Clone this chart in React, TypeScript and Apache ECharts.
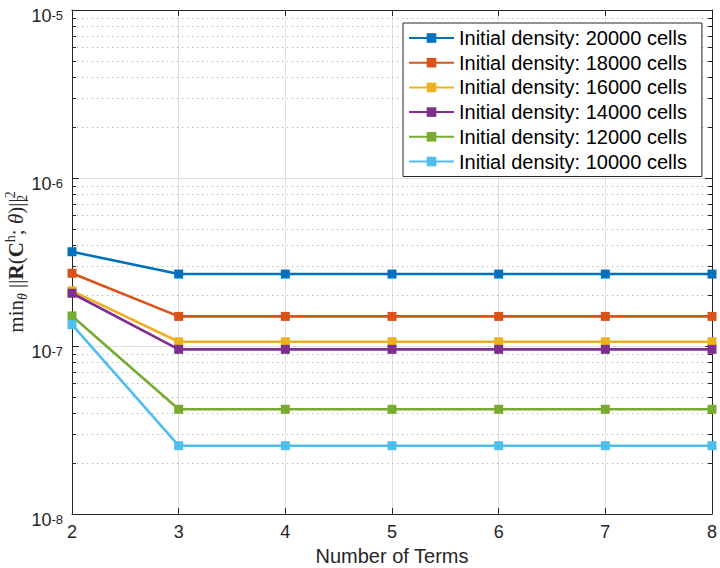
import React, { useEffect, useRef } from "react";
import * as echarts from "echarts";

const terms = [2, 3, 4, 5, 6, 7, 8];
const seriesNames = [
  "Initial density: 20000 cells",
  "Initial density: 18000 cells",
  "Initial density: 16000 cells",
  "Initial density: 14000 cells",
  "Initial density: 12000 cells",
  "Initial density: 10000 cells",
];
const d20000 = [3.64e-7, 2.68e-7, 2.68e-7, 2.68e-7, 2.68e-7, 2.68e-7, 2.68e-7];
const d18000 = [2.71e-7, 1.5e-7, 1.5e-7, 1.5e-7, 1.5e-7, 1.5e-7, 1.5e-7];
const d16000 = [2.13e-7, 1.06e-7, 1.06e-7, 1.06e-7, 1.06e-7, 1.06e-7, 1.06e-7];
const d14000 = [2.06e-7, 9.55e-8, 9.55e-8, 9.55e-8, 9.55e-8, 9.55e-8, 9.55e-8];
const d12000 = [1.51e-7, 4.2e-8, 4.2e-8, 4.2e-8, 4.2e-8, 4.2e-8, 4.2e-8];
const d10000 = [1.34e-7, 2.55e-8, 2.55e-8, 2.55e-8, 2.55e-8, 2.55e-8, 2.55e-8];
const allSeries = [d20000, d18000, d16000, d14000, d12000, d10000];
const colors = ["#0072BD", "#D95319", "#EDB120", "#7E2F8E", "#77AC30", "#4DBEEE"];
const minorYTicks = [
  2e-8, 3e-8, 4e-8, 5e-8, 6e-8, 7e-8, 8e-8, 9e-8,
  2e-7, 3e-7, 4e-7, 5e-7, 6e-7, 7e-7, 8e-7, 9e-7,
  2e-6, 3e-6, 4e-6, 5e-6, 6e-6, 7e-6, 8e-6, 9e-6,
];
const yAxisTitle = "{n|min}{sub|θ}{n| ||}{b|R}{n|(}{b|C}{sup|h}{n|; }{i|θ}{n|)||}{subw|2}{sup|2}";

const FONT = "'Liberation Sans', Arial, Helvetica, sans-serif";
const SERIF = "'Liberation Serif', 'DejaVu Serif', serif";
const TXT = "#262626";

export default function App() {
  const ref = useRef<HTMLDivElement>(null);
  useEffect(() => {
    if (!ref.current) return;
    const chart = echarts.init(ref.current, null, { renderer: "svg" });
    const lineSeries = allSeries.map((vals, i) => ({
      name: seriesNames[i],
      type: "line",
      data: terms.map((t, j) => [t, vals[j]]),
      symbol: "rect",
      symbolSize: 9,
      lineStyle: { width: 2.6, color: colors[i] },
      itemStyle: { color: colors[i] },
      z: 10 + i,
    }));
    chart.setOption({
      animation: false,
      backgroundColor: "#ffffff",
      textStyle: { fontFamily: FONT },
      grid: { left: 72, right: 8, top: 10, bottom: 54, containLabel: false, outerBoundsMode: "none" },
      graphic: [
        {
          type: "text",
          x: 16,
          y: 262,
          rotation: Math.PI / 2,
          style: {
            text: yAxisTitle,
            align: "center",
            verticalAlign: "middle",
            fill: TXT,
            font: `21px ${SERIF}`,
            rich: {
              n: { fontSize: 21, fontFamily: SERIF, fill: TXT, lineHeight: 26 },
              b: { fontSize: 21, fontWeight: "bold", fontFamily: SERIF, fill: TXT, lineHeight: 26 },
              i: { fontSize: 21, fontStyle: "italic", fontFamily: SERIF, fill: TXT, lineHeight: 26 },
              sub: { fontSize: 14, fontStyle: "italic", fontFamily: SERIF, fill: TXT, lineHeight: 14, padding: [12, 0, 0, 0] },
              subw: { fontSize: 14, fontFamily: SERIF, fill: TXT, lineHeight: 14, width: 0, padding: [12, 0, 0, 0] },
              sup: { fontSize: 14, fontFamily: SERIF, fill: TXT, lineHeight: 14, padding: [0, 0, 12, 0] },
            },
          },
        },
      ],
      legend: {
        orient: "vertical",
        left: 403,
        top: 23,
        padding: [5, 15, 5, 5],
        itemWidth: 45,
        itemHeight: 12,
        itemGap: 4.7,
        backgroundColor: "#ffffff",
        borderColor: "#262626",
        borderWidth: 1,
        textStyle: { fontSize: 20, lineHeight: 20, color: "#000", fontFamily: FONT },
        data: seriesNames,
        z: 50,
      },
      xAxis: [
        {
          type: "value",
          min: 2,
          max: 8,
          interval: 1,
          name: "Number of Terms",
          nameLocation: "middle",
          nameGap: 32,
          nameTextStyle: { fontSize: 20, color: TXT, fontFamily: FONT },
          axisLine: { lineStyle: { color: TXT, width: 1 } },
          axisTick: { inside: true, length: 6, lineStyle: { color: TXT } },
          axisLabel: { fontSize: 18, color: TXT, margin: 9, fontFamily: FONT },
          splitLine: { show: true, lineStyle: { color: "#dfdfdf", width: 1 } },
        },
        {
          type: "value",
          position: "top",
          min: 2,
          max: 8,
          interval: 1,
          axisLine: { show: true, lineStyle: { color: TXT, width: 1 } },
          axisTick: { show: true, inside: true, length: 6, lineStyle: { color: TXT } },
          axisLabel: { show: false },
          splitLine: { show: false },
        },
      ],
      yAxis: [
        {
          type: "log",
          logBase: 10,
          min: 1e-8,
          max: 1e-5,
          splitNumber: 3,
          axisLine: { show: true, lineStyle: { color: TXT, width: 1 } },
          axisTick: { show: true, inside: true, length: 7, lineStyle: { color: TXT } },
          axisLabel: {
            margin: 9,
            formatter: (v: number) => `{b|10}{s|${Math.round(Math.log10(v))}}`,
            rich: {
              b: { fontSize: 18, color: TXT, fontFamily: FONT, lineHeight: 20, padding: [12, 0, 0, 0] },
              s: { fontSize: 13, color: TXT, fontFamily: FONT, verticalAlign: "top", lineHeight: 12, padding: [9, 0, 0, 0] },
            },
          },
          splitLine: { show: true, lineStyle: { color: "#dfdfdf", width: 1 } },
        },
        {
          type: "log",
          logBase: 10,
          min: 1e-8,
          max: 1e-5,
          splitNumber: 3,
          position: "right",
          axisLine: { show: true, lineStyle: { color: TXT, width: 1 } },
          axisTick: { show: true, inside: true, length: 7, lineStyle: { color: TXT } },
          axisLabel: { show: false },
          splitLine: { show: false },
        },
      ],
      series: [
        {
          type: "custom",
          silent: true,
          z: 1,
          xAxisIndex: 0,
          yAxisIndex: 0,
          data: minorYTicks.map((v) => [2, v]),
          encode: { x: 0, y: 1 },
          renderItem: (params: any, api: any) => {
            const pt = api.coord([api.value(0), api.value(1)]);
            const cs = params.coordSys;
            const y = Math.round(pt[1]) + 0.5;
            const x0 = cs.x;
            const x1 = cs.x + cs.width;
            return {
              type: "group",
              children: [
                {
                  type: "line",
                  shape: { x1: x0, y1: y, x2: x1, y2: y },
                  style: { stroke: "#b0b0b0", lineWidth: 1, lineDash: [1.2, 3.8] },
                },
                {
                  type: "line",
                  shape: { x1: x0, y1: y, x2: x0 + 4, y2: y },
                  style: { stroke: TXT, lineWidth: 1 },
                },
                {
                  type: "line",
                  shape: { x1: x1 - 4, y1: y, x2: x1, y2: y },
                  style: { stroke: TXT, lineWidth: 1 },
                },
              ],
            };
          },
        },
        ...lineSeries,
      ],
    });
    return () => chart.dispose();
  }, []);
  return <div ref={ref} style={{ width: 720, height: 568, position: "absolute", left: 0, top: 0 }} />;
}
